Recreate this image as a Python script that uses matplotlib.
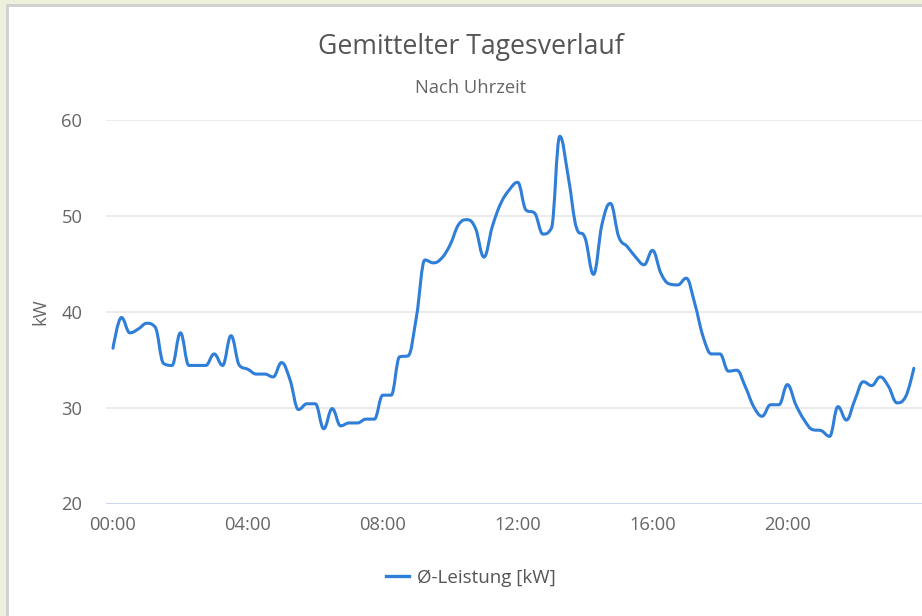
import numpy as np
import matplotlib
matplotlib.use("Agg")
import matplotlib.pyplot as plt
from matplotlib.path import Path
from matplotlib.patches import PathPatch, Rectangle
from matplotlib.lines import Line2D

# ---- data ----
title = "Gemittelter Tagesverlauf"
subtitle = "Nach Uhrzeit"
y_label = "kW"
series_name = "Ø-Leistung [kW]"
slot_hours = np.arange(96) * 0.25  # 15-minute slots of the day
power_kw = [
    36.2, 39.4, 37.8, 38.2, 38.8, 38.4, 34.6, 34.4, 37.8, 34.4, 34.4, 34.4,
    35.6, 34.4, 37.5, 34.4, 34.0, 33.5, 33.5, 33.2, 34.7, 32.9, 29.8, 30.4,
    30.4, 27.8, 29.9, 28.1, 28.4, 28.4, 28.8, 28.8, 31.3, 31.3, 35.3, 35.4,
    39.5, 45.4, 45.1, 45.6, 47.0, 49.1, 49.6, 48.7, 45.7, 48.9, 51.3, 52.7,
    53.5, 50.6, 50.3, 48.1, 48.7, 58.3, 54.1, 48.7, 47.7, 43.9, 49.1, 51.3,
    47.8, 46.8, 45.7, 44.9, 46.4, 44.0, 42.9, 42.8, 43.5, 40.9, 37.4, 35.6,
    35.6, 33.8, 33.9, 32.2, 30.1, 29.1, 30.3, 30.3, 32.4, 30.3, 28.7, 27.7,
    27.6, 27.0, 30.1, 28.7, 30.8, 32.7, 32.3, 33.2, 32.2, 30.5, 31.1, 34.1,
]
x_ticks = [0, 4, 8, 12, 16, 20]
x_tick_labels = ["00:00", "04:00", "08:00", "12:00", "16:00", "20:00"]
y_ticks = [20, 30, 40, 50, 60]

LINE_COLOR = "#2f7ed8"
FONT = "Open Sans"
plt.rcParams["font.family"] = [FONT, "DejaVu Sans"]


def spline_path(xs, ys, sx, sy, smoothing=1.5):
    """Highcharts-style spline through the points (computed in pixel-like units)."""
    X = np.asarray(xs, float) * sx
    Y = np.asarray(ys, float) * sy
    n = len(X)
    denom = smoothing + 1
    lc = np.column_stack([X, Y]).copy()
    rc = np.column_stack([X, Y]).copy()
    for i in range(1, n - 1):
        px, py = X[i], Y[i]
        lx, ly = X[i - 1], Y[i - 1]
        nx, ny = X[i + 1], Y[i + 1]
        lcx = (smoothing * px + lx) / denom
        lcy = (smoothing * py + ly) / denom
        rcx = (smoothing * px + nx) / denom
        rcy = (smoothing * py + ny) / denom
        if rcx != lcx:
            corr = (rcy - lcy) * (rcx - px) / (rcx - lcx) + py - rcy
            lcy += corr
            rcy += corr
        if lcy > ly and lcy > py:
            lcy = max(ly, py); rcy = 2 * py - lcy
        elif lcy < ly and lcy < py:
            lcy = min(ly, py); rcy = 2 * py - lcy
        if rcy > ny and rcy > py:
            rcy = max(ny, py); lcy = 2 * py - rcy
        elif rcy < ny and rcy < py:
            rcy = min(ny, py); lcy = 2 * py - rcy
        lc[i] = (lcx, lcy)
        rc[i] = (rcx, rcy)
    verts = [(X[0], Y[0])]
    codes = [Path.MOVETO]
    for i in range(1, n):
        verts += [tuple(rc[i - 1]), tuple(lc[i]), (X[i], Y[i])]
        codes += [Path.CURVE4] * 3
    verts = np.array(verts)
    verts[:, 0] /= sx
    verts[:, 1] /= sy
    return Path(verts, codes)


W, H = 922, 616
fig = plt.figure(figsize=(W / 100, H / 100), dpi=100)
fig.patch.set_facecolor("#edf1dc")
fig.patches.append(Rectangle((7 / W, -0.1), 1.1, (H - 5) / H + 0.1,
                             transform=fig.transFigure, facecolor="white",
                             edgecolor="#cfcfcf", lw=2, zorder=-10))

ax_left, ax_right = 106, 922
ax_top, ax_bottom = 120, 503.5
ax = fig.add_axes([ax_left / W, 1 - ax_bottom / H,
                   (ax_right - ax_left) / W, (ax_bottom - ax_top) / H])
ax.set_facecolor("none")
ax.set_zorder(1)

x0_px = 113
px_per_h = 33.72
ax.set_xlim(-(x0_px - ax_left) / px_per_h, (ax_right - x0_px) / px_per_h)
ax.set_ylim(20, 60)
px_per_kw = (ax_bottom - ax_top) / 40

path = spline_path(slot_hours, power_kw, px_per_h, px_per_kw)
ax.add_patch(PathPatch(path, fill=False, edgecolor=LINE_COLOR, lw=2.2,
                       capstyle="round", joinstyle="round", zorder=3))

for s in ax.spines.values():
    s.set_visible(False)
ax.set_yticks(y_ticks)
for yv in y_ticks[1:]:
    ax.axhline(yv, color="#e6e6e6", lw=1.1, zorder=1)
ax.axhline(20, color="#ccd6eb", lw=1.4, zorder=1)

ax.set_xticks(x_ticks)
ax.set_xticklabels(x_tick_labels)
ax.tick_params(axis="both", length=0, labelsize=13.2, labelcolor="#666666")
ax.tick_params(axis="y", pad=17)
ax.tick_params(axis="x", pad=9)

ax.set_ylabel(y_label, fontsize=13.2, color="#666666")
ax.yaxis.set_label_coords((49 - ax_left) / (ax_right - ax_left), 0.5)

cx = 471 / W
fig.text(cx, 1 - 47 / H, title, ha="center", va="center",
         fontsize=19.2, color="#555555")
fig.text(cx, 1 - 88 / H, subtitle, ha="center", va="center",
         fontsize=13.2, color="#666666")

handle = Line2D([], [], color=LINE_COLOR, lw=2.4)
fig.legend([handle], [series_name], loc="center", bbox_to_anchor=(cx, 1 - 578 / H),
           frameon=False, fontsize=13.5, handlelength=1.2, handletextpad=0.45,
           labelcolor="#555555")

fig.savefig("out.png", dpi=100, facecolor=fig.get_facecolor())
